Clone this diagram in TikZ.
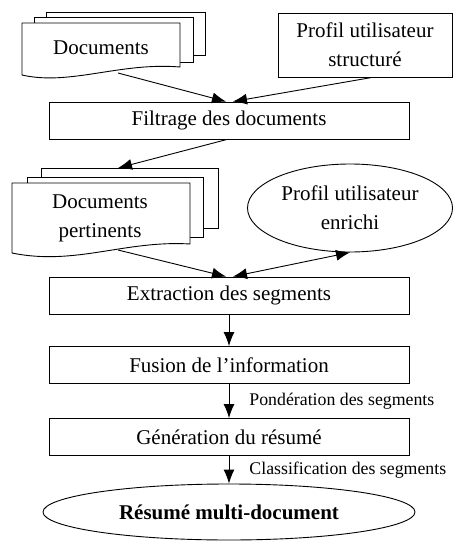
\documentclass[tikz,border=0pt]{standalone}
\usepackage{fontspec}
\setmainfont{Liberation Serif}
\usetikzlibrary{arrows.meta,shapes.geometric}
\begin{document}
\begin{tikzpicture}[x=1pt,y=-1pt,
  line width=0.9pt,
  page/.style={draw=black,fill=white},
  txt/.style={font=\fontsize{21}{29}\selectfont,align=center,inner sep=0pt},
  lbl/.style={font=\fontsize{17.8}{20}\selectfont,inner sep=0pt,anchor=west},
  box/.style={draw=black,fill=white,minimum width=360pt,minimum height=37pt,inner sep=0pt,font=\fontsize{21}{29}\selectfont},
  arr/.style={-{Latex[length=14pt,width=11pt]}},
  barr/.style={{Latex[length=14pt,width=11pt]}-{Latex[length=14pt,width=11pt]}}]
\useasboundingbox (0,0) rectangle (455,541);
% Documents (multi-document)
\draw[page] (46,12) -- (205,12) -- (205,55) -- (46,55) -- cycle;
\draw[page] (34,17) -- (193,17) -- (193,62) -- (34,62) -- cycle;
\draw[page] (22,23) -- (180,23) -- (180,67) .. controls (120,62) and (70,86) .. (22,75) -- cycle;
\node[txt] (docs) at (101,48) {Documents};
\coordinate (docsb) at (118,73);
% Profil structure
\node[draw,minimum width=174pt,minimum height=64pt,txt] (profs) at (365,45) {Profil utilisateur\\structuré};
% Filtrage
\node[box] (filt) at (229,120.5) {Filtrage des documents};
% Documents pertinents
\draw[page] (41,168) -- (218,168) -- (218,228) -- (41,228) -- cycle;
\draw[page] (27,177) -- (203,177) -- (203,237) -- (27,237) -- cycle;
\draw[page] (12,183) -- (190,183) -- (190,244) .. controls (125,240) and (75,266) .. (12,253) -- cycle;
\node[txt] (dpert) at (100,218) {Documents\\pertinents};
\coordinate (dpt) at (118,168);
\coordinate (dpb) at (118,250);
% Profil enrichi
\node[draw,ellipse,minimum width=205pt,minimum height=88pt,inner sep=0pt,txt] (profe) at (350,208) {Profil utilisateur\\enrichi};
% Process boxes
\node[box] (extr) at (229,295.5) {Extraction des segments};
\node[box] (fus) at (229,365) {Fusion de l'information};
\node[box] (gen) at (229,437) {Génération du résumé};
\node[draw,ellipse,minimum width=372pt,minimum height=56pt,inner sep=0pt,font=\fontsize{21}{29}\selectfont\bfseries] (res) at (229,512) {Résumé multi-document};
% Arrows
\draw[arr] (docsb) -- ([xshift=-3pt]filt.north);
\draw[arr] (profs.south) ++(7,0) -- ([xshift=4pt]filt.north);
\draw[arr] ([xshift=-2pt]filt.south) -- (dpt);
\draw[arr] (dpb) -- ([xshift=-3pt]extr.north);
\draw[barr] ([xshift=4pt]extr.north) -- (profe.south);
\draw[arr] (extr.south) -- (fus.north);
\draw[arr] (fus.south) -- (gen.north) node[pos=0.5,lbl,xshift=20pt] (l1) {Pondération des segments};
\draw[arr] (gen.south) -- (res.north) node[pos=0.5,lbl,xshift=20pt] (l2) {Classification des segments};
\end{tikzpicture}
\end{document}
